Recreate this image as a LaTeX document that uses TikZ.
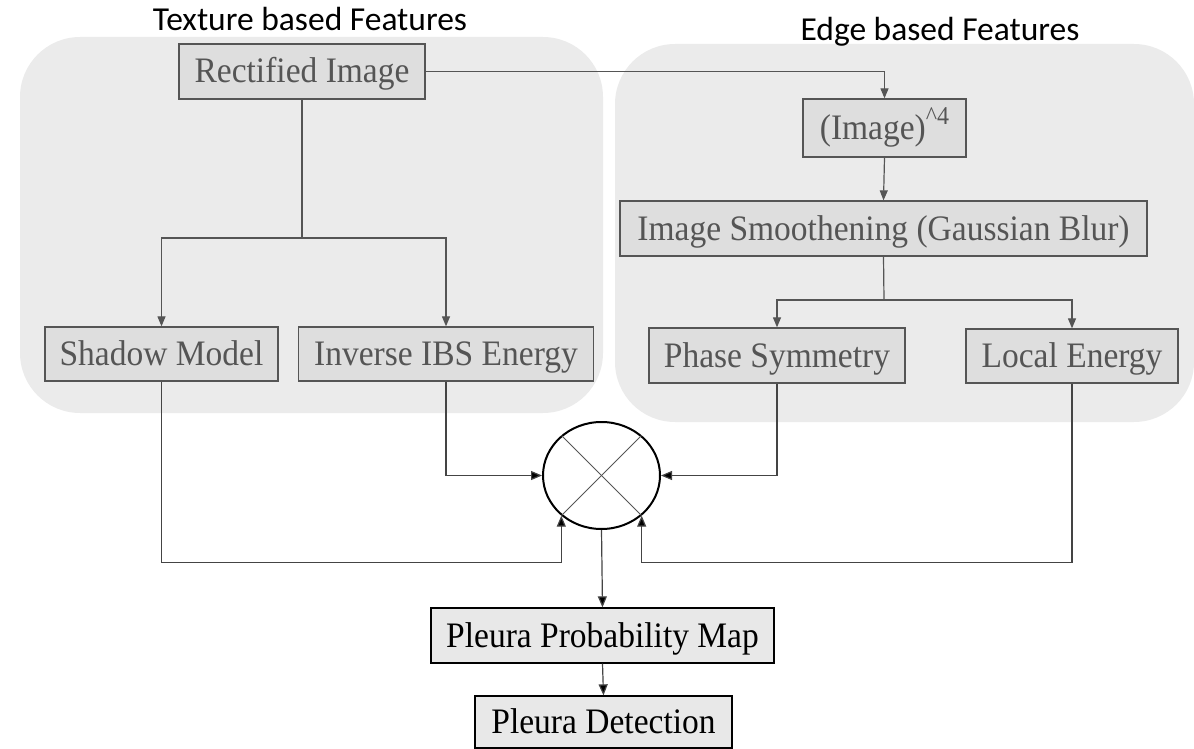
\documentclass[tikz,border=0pt]{standalone}
\usepackage{fontspec}
\setmainfont{Liberation Serif}
\newfontfamily\titlefont{Carlito}
\usetikzlibrary{arrows.meta,shapes.geometric}
\definecolor{panelbg}{HTML}{EBEBEB}
\definecolor{boxbg}{HTML}{DEDEDE}
\definecolor{boxfg}{HTML}{555555}
\definecolor{lowbg}{HTML}{E8E8E8}
\definecolor{lowline}{HTML}{444444}
\newcommand{\stt}[1]{\scalebox{1}[1.07]{#1}}
\begin{document}
\begin{tikzpicture}[x=1pt,y=-1pt,
  panel/.style={fill=panelbg, rounded corners=60pt},
  inbox/.style={draw=boxfg, fill=boxbg, text=boxfg, line width=1.3pt, inner sep=0pt, text height=23pt, text depth=0pt, font=\fontsize{33.5}{36}\selectfont},
  outbox/.style={draw=black, fill=lowbg, text=black, line width=1.3pt, inner sep=0pt, text height=23pt, text depth=0pt, font=\fontsize{33.5}{36}\selectfont},
  ttl/.style={font=\titlefont\fontsize{33.5}{38}\selectfont, inner sep=0pt, anchor=base},
  gline/.style={draw=boxfg, line width=1.2pt},
  garrow/.style={gline, -{Triangle[length=10pt,width=8pt]}},
  kline/.style={draw=lowline, line width=1.2pt},
  karrow/.style={kline, -{Triangle[length=11pt,width=9pt,fill=black]}}
]
\useasboundingbox (0,0) rectangle (1194,749);
% panels
\fill[panel] (20,37) rectangle (603,413);
\fill[panel] (615,44) rectangle (1194,422);
% titles
\node[ttl] (t1) at (310,31) {Texture based Features};
\node[ttl] (t2) at (940,41) {Edge based Features};
% nodes
\node[inbox, minimum width=246, minimum height=55] (rect) at (302,71.5) {\stt{Rectified Image}};
\node[inbox, minimum width=163, minimum height=58] (img4) at (884.5,128) {\stt{(Image)\raisebox{0.42em}{\fontsize{24}{26}\selectfont\textasciicircum 4}}};
\node[inbox, minimum width=527, minimum height=55] (smooth) at (883.5,228.5) {\stt{Image Smoothening (Gaussian Blur)}};
\node[inbox, minimum width=233, minimum height=54] (shadow) at (161.5,354) {\stt{Shadow Model}};
\node[inbox, minimum width=295, minimum height=54] (ibs) at (446,354) {\stt{Inverse IBS Energy}};
\node[inbox, minimum width=256, minimum height=55] (phase) at (777,355.5) {\stt{Phase Symmetry}};
\node[inbox, minimum width=212, minimum height=54] (local) at (1072,356) {\stt{Local Energy}};
\node[draw=black, line width=2pt, ellipse, minimum width=117, minimum height=107, inner sep=0pt] (circ) at (601.5,475.5) {};
\node[outbox, minimum width=343, minimum height=55] (ppm) at (602.5,635.5) {\stt{Pleura Probability Map}};
\node[outbox, minimum width=257, minimum height=52] (pd) at (603.5,722) {\stt{Pleura Detection}};
% cross in circle
\draw[gline, line width=1pt] (circ.45) -- (circ.225);
\draw[gline, line width=1pt] (circ.135) -- (circ.315);
% split points
\coordinate (s1) at (302,238);
\coordinate (s2) at (884,300);
% connectors
\draw[garrow] (rect.east) -| (img4.north);
\draw[garrow] (img4.south) -- (smooth.north);
\draw[gline] (rect.south) -- (s1);
\draw[garrow] (s1) -| (shadow.north);
\draw[garrow] (s1) -| (ibs.north);
\draw[gline] (smooth.south) -- (s2);
\draw[garrow] (s2) -| (phase.north);
\draw[garrow] (s2) -| (local.north);
\draw[karrow] (ibs.south) |- (circ.west);
\draw[karrow] (phase.south) |- (circ.east);
\draw[karrow] (shadow.south) -- ++(0,181) -| (circ.225);
\draw[karrow] (local.south) -- ++(0,179) -| (circ.315);
\draw[karrow] (circ.south) -- (ppm.north);
\draw[karrow] (ppm.south) -- (pd.north);
\end{tikzpicture}
\end{document}
